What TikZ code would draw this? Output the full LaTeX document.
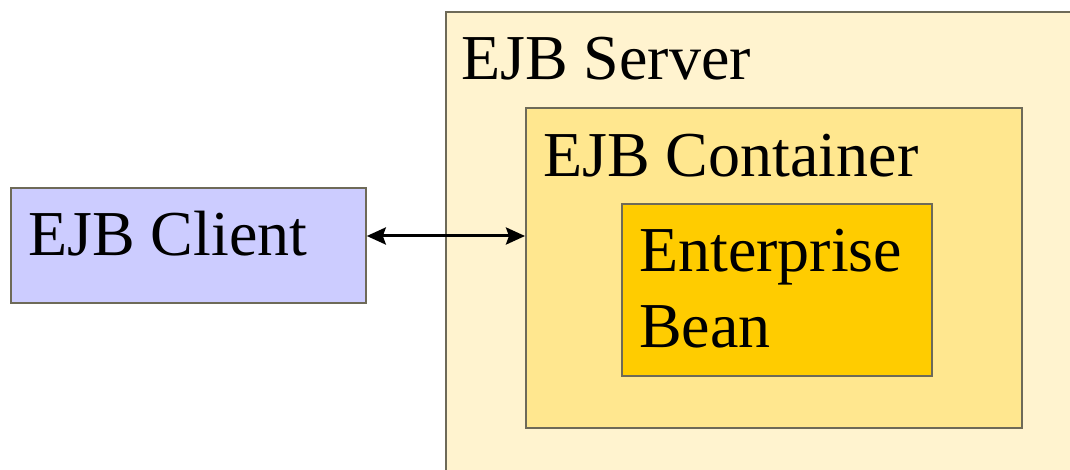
\documentclass[tikz,border=0pt]{standalone}
\usepackage{fontspec}
\setmainfont{Liberation Serif}
\usetikzlibrary{arrows.meta}
\definecolor{serverfill}{HTML}{FFF3CF}
\definecolor{containerfill}{HTML}{FFE78F}
\definecolor{beanfill}{HTML}{FFCC00}
\definecolor{clientfill}{HTML}{CCCCFF}
\definecolor{edgegray}{HTML}{6E6A58}
\tikzset{
  box/.style={draw=edgegray, line width=1.8pt, rectangle, inner sep=0pt, anchor=north west},
  boxtext/.style={anchor=base west, inner sep=0pt, font=\fontsize{64}{75}\selectfont},
  link/.style={line width=3pt, {Stealth[length=19pt,width=17pt,inset=3pt]}-{Stealth[length=19pt,width=17pt,inset=3pt]}}
}
\begin{document}
\begin{tikzpicture}[x=1pt,y=-1pt]
  \useasboundingbox (0,0) rectangle (1070,470);
  \clip (0,0) rectangle (1070,470);
  % nested server boxes
  \node[box, fill=serverfill, minimum width=640pt, minimum height=480pt] (server) at (445,11) {};
  \node[box, fill=containerfill, minimum width=496pt, minimum height=320pt] (container) at (525,107) {};
  \node[box, fill=beanfill, minimum width=310pt, minimum height=172pt] (bean) at (621,203) {};
  % client box
  \node[box, fill=clientfill, minimum width=355pt, minimum height=115pt] (client) at (10,187) {};
  % labels
  \node[boxtext] (serverlabel) at (461,80) {EJB Server};
  \node[boxtext] (containerlabel) at (543,177) {EJB Container};
  \node[boxtext] (clientlabel) at (28,255) {EJB Client};
  \node[boxtext] (beanlabel1) at (639,272) {Enterprise};
  \node[boxtext] (beanlabel2) at (639,347) {Bean};
  % request/response link
  \coordinate (linkrow) at (0,236);
  \draw[link] (client.east |- linkrow) -- (container.west |- linkrow);
\end{tikzpicture}
\end{document}
